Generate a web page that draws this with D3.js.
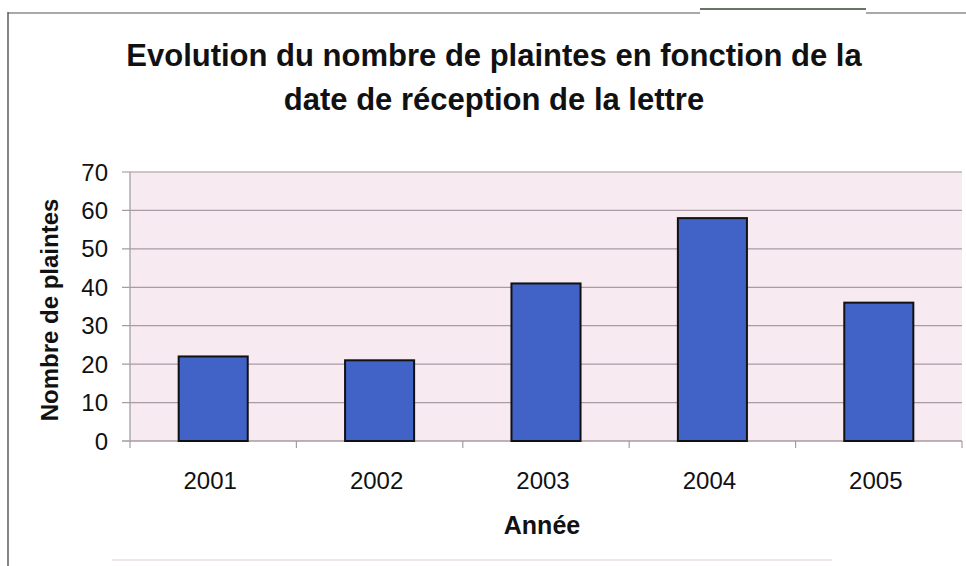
<!DOCTYPE html>
<html>
<head>
<meta charset="utf-8">
<script src="https://cdn.jsdelivr.net/npm/d3@7"></script>
<style>
  body { margin: 0; background: #fff; }
  svg { display: block; font-family: "Liberation Sans", Arial, sans-serif; }
</style>
</head>
<body>
<div id="viz"></div>
<script>
const years = ["2001", "2002", "2003", "2004", "2005"];
const plaintes = [22, 21, 41, 58, 36];
const yTicks = [0, 10, 20, 30, 40, 50, 60, 70];

const width = 966;
const height = 566;
const margin = { top: 172, right: 4, bottom: 125, left: 130 };

const svg = d3.select("#viz")
  .append("svg")
  .attr("width", width)
  .attr("height", height);

// scanned frame lines
svg.append("line").attr("x1", 8).attr("x2", 8).attr("y1", 12).attr("y2", height)
  .attr("stroke", "#333").attr("stroke-width", 1.2);
svg.append("line").attr("x1", 8).attr("x2", 700).attr("y1", 13).attr("y2", 13)
  .attr("stroke", "#555").attr("stroke-width", 1.2);
svg.append("line").attr("x1", 700).attr("x2", 866).attr("y1", 9).attr("y2", 9)
  .attr("stroke", "#2f4a30").attr("stroke-width", 1.5);
svg.append("line").attr("x1", 866).attr("x2", width).attr("y1", 13).attr("y2", 13)
  .attr("stroke", "#555").attr("stroke-width", 1.2);
svg.append("line").attr("x1", 112).attr("x2", 832).attr("y1", 560).attr("y2", 560)
  .attr("stroke", "#f3e3ea").attr("stroke-width", 2);

const x = d3.scaleBand()
  .domain(years)
  .range([margin.left, width - margin.right])
  .paddingInner(0.585)
  .paddingOuter(0.2925);

const y = d3.scaleLinear()
  .domain([0, 70])
  .range([height - margin.bottom, margin.top]);

// plot background
svg.append("rect")
  .attr("x", margin.left)
  .attr("y", y(70))
  .attr("width", width - margin.right - margin.left)
  .attr("height", y(0) - y(70))
  .attr("fill", "#f8eaf1");

// gridlines
svg.append("g")
  .selectAll("line")
  .data(yTicks)
  .join("line")
  .attr("x1", margin.left - 8)
  .attr("x2", width - margin.right)
  .attr("y1", d => y(d))
  .attr("y2", d => y(d))
  .attr("stroke", d => d === 70 ? "#bdb3b8" : "#ab99a3")
  .attr("stroke-width", 1.3);

// y axis line
svg.append("line")
  .attr("x1", margin.left).attr("x2", margin.left)
  .attr("y1", y(70)).attr("y2", y(0))
  .attr("stroke", "#a0a0a0").attr("stroke-width", 1.3);

// x tick marks at band boundaries
const step = x.step();
const bounds = years.map((d, i) => margin.left + step * i);
svg.append("g")
  .selectAll("line")
  .data(bounds.concat([width - margin.right]))
  .join("line")
  .attr("x1", d => d).attr("x2", d => d)
  .attr("y1", y(0)).attr("y2", y(0) + 7)
  .attr("stroke", "#a0a0a0").attr("stroke-width", 1.2);

// bars
svg.append("g")
  .selectAll("rect")
  .data(plaintes)
  .join("rect")
  .attr("x", (d, i) => x(years[i]))
  .attr("y", d => y(d))
  .attr("width", x.bandwidth())
  .attr("height", d => y(0) - y(d))
  .attr("fill", "#4163c8")
  .attr("stroke", "#111")
  .attr("stroke-width", 2);

// y tick labels
svg.append("g")
  .selectAll("text")
  .data(yTicks)
  .join("text")
  .attr("x", 108)
  .attr("y", d => y(d))
  .attr("dy", "0.36em")
  .attr("text-anchor", "end")
  .attr("font-size", 24)
  .attr("fill", "#111")
  .text(d => d);

// x tick labels
svg.append("g")
  .selectAll("text")
  .data(years)
  .join("text")
  .attr("x", d => x(d) + x.bandwidth() / 2 - 3)
  .attr("y", 489)
  .attr("text-anchor", "middle")
  .attr("font-size", 24)
  .attr("fill", "#111")
  .text(d => d);

// axis titles
svg.append("text")
  .attr("x", (margin.left + width - margin.right) / 2 - 4)
  .attr("y", 534)
  .attr("text-anchor", "middle")
  .attr("font-size", 25)
  .attr("font-weight", "bold")
  .attr("fill", "#111")
  .text("Année");

svg.append("text")
  .attr("transform", "translate(58,310) rotate(-90)")
  .attr("text-anchor", "middle")
  .attr("font-size", 24)
  .attr("font-weight", "bold")
  .attr("fill", "#111")
  .text("Nombre de plaintes");

// title
const title = svg.append("text")
  .attr("text-anchor", "middle")
  .attr("font-size", 31)
  .attr("font-weight", "bold")
  .attr("fill", "#111");
title.append("tspan").attr("x", 494).attr("y", 66)
  .text("Evolution du nombre de plaintes en fonction de la");
title.append("tspan").attr("x", 494).attr("y", 110)
  .text("date de réception de la lettre");
</script>
</body>
</html>
